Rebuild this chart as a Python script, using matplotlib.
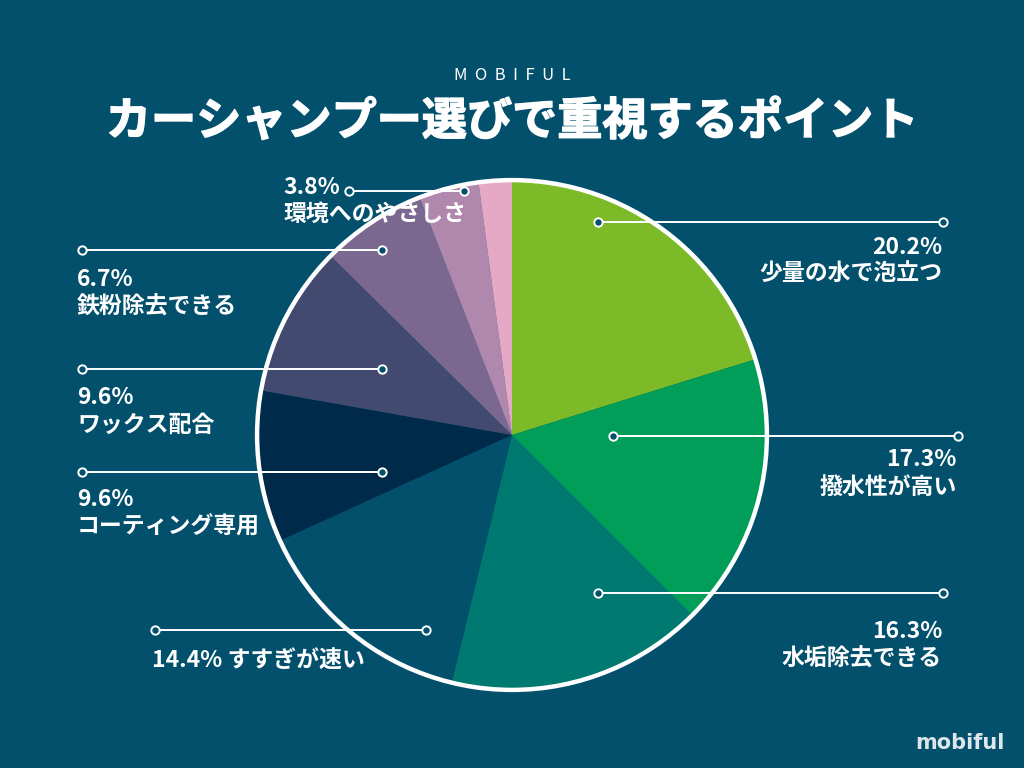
import matplotlib.pyplot as plt
import matplotlib.patheffects as pe
from matplotlib.patches import Circle

plt.rcParams['font.family'] = ['Noto Sans CJK JP', 'DejaVu Sans']

# Data (clockwise from 12 o'clock)
labels = ['少量の水で泡立つ', '撥水性が高い', '水垢除去できる', 'すすぎが速い',
          'コーティング専用', 'ワックス配合', '鉄粉除去できる', '環境へのやさしさ', 'その他']
values = [20.2, 17.3, 16.3, 14.4, 9.6, 9.6, 6.7, 3.8, 2.1]
colors = ['#7dba27', '#009e58', '#007a70', '#03506d', '#002a4a',
          '#434a70', '#7b6891', '#b188ad', '#e5a9c6']

bg = '#03506d'

fig = plt.figure(figsize=(10.24, 7.68), dpi=100, facecolor=bg)

# Pie: centre (512, 435) px, radius 260 px
r = 260
ax = fig.add_axes([(512 - r) / 1024, (768 - 435 - r) / 768, 2 * r / 1024, 2 * r / 768])
ax.pie(values, colors=colors, startangle=90, counterclock=False, radius=1,
       wedgeprops=dict(linewidth=0))
ax.add_patch(Circle((0, 0), 1, fill=False, edgecolor='white', linewidth=3.2))
ax.set_xlim(-1.02, 1.02)
ax.set_ylim(-1.02, 1.02)
ax.set_aspect('equal')
ax.axis('off')

# Overlay in pixel coords for leader lines and labels
ov = fig.add_axes([0, 0, 1, 1], facecolor='none')
ov.set_xlim(0, 1024)
ov.set_ylim(768, 0)
ov.axis('off')

# leader lines: (x0, x1, y) and label layout: (x, y_pct, y_name, ha)
leaders = [(598, 943, 222), (613, 958, 436), (598, 943, 593), (155, 426, 630),
           (82, 382, 472), (82, 382, 369), (82, 382, 250), (349, 464, 191)]
layout = [(942, 247, 274, 'right'), (957, 459, 487, 'right'), (942, 631, 659, 'right'),
          (152, 661, None, 'left'), (77, 499, 527, 'left'), (77, 398, 425, 'left'),
          (77, 280, 307, 'left'), (283, 187, 214, 'left')]

fs = 16.5
for (x0, x1, y), (tx, ty1, ty2, ha), lab, v in zip(leaders, layout, labels, values):
    ov.plot([x0, x1], [y, y], color='white', linewidth=1.4, zorder=3)
    ov.plot([x0, x1], [y, y], linestyle='none', marker='o', markersize=6,
            markerfacecolor=bg, markeredgecolor='white', markeredgewidth=1.4, zorder=4)
    if ty2 is None:
        ov.text(tx, ty1, f'{v}% {lab}', color='white', fontsize=fs, ha=ha, va='center',
                fontweight='bold')
    else:
        ov.text(tx, ty1, f'{v}%', color='white', fontsize=fs, ha=ha, va='center',
                fontweight='bold')
        ov.text(tx, ty2, lab, color='white', fontsize=fs, ha=ha, va='center',
                fontweight='bold')

# Titles
ov.text(512, 75, 'M  O  B  I  F  U  L', color='white', fontsize=12, ha='center', va='center')
ov.text(512, 122, 'カーシャンプー選びで重視するポイント', color='white', fontsize=32.5,
        fontweight='bold', ha='center', va='center',
        path_effects=[pe.withStroke(linewidth=1.0, foreground='white')])
ov.text(960, 743, 'mobiful', color='#dde6ea', fontsize=15, fontweight='bold',
        ha='center', va='center', family='DejaVu Sans')

fig.savefig('out.png', dpi=100, facecolor=bg)
